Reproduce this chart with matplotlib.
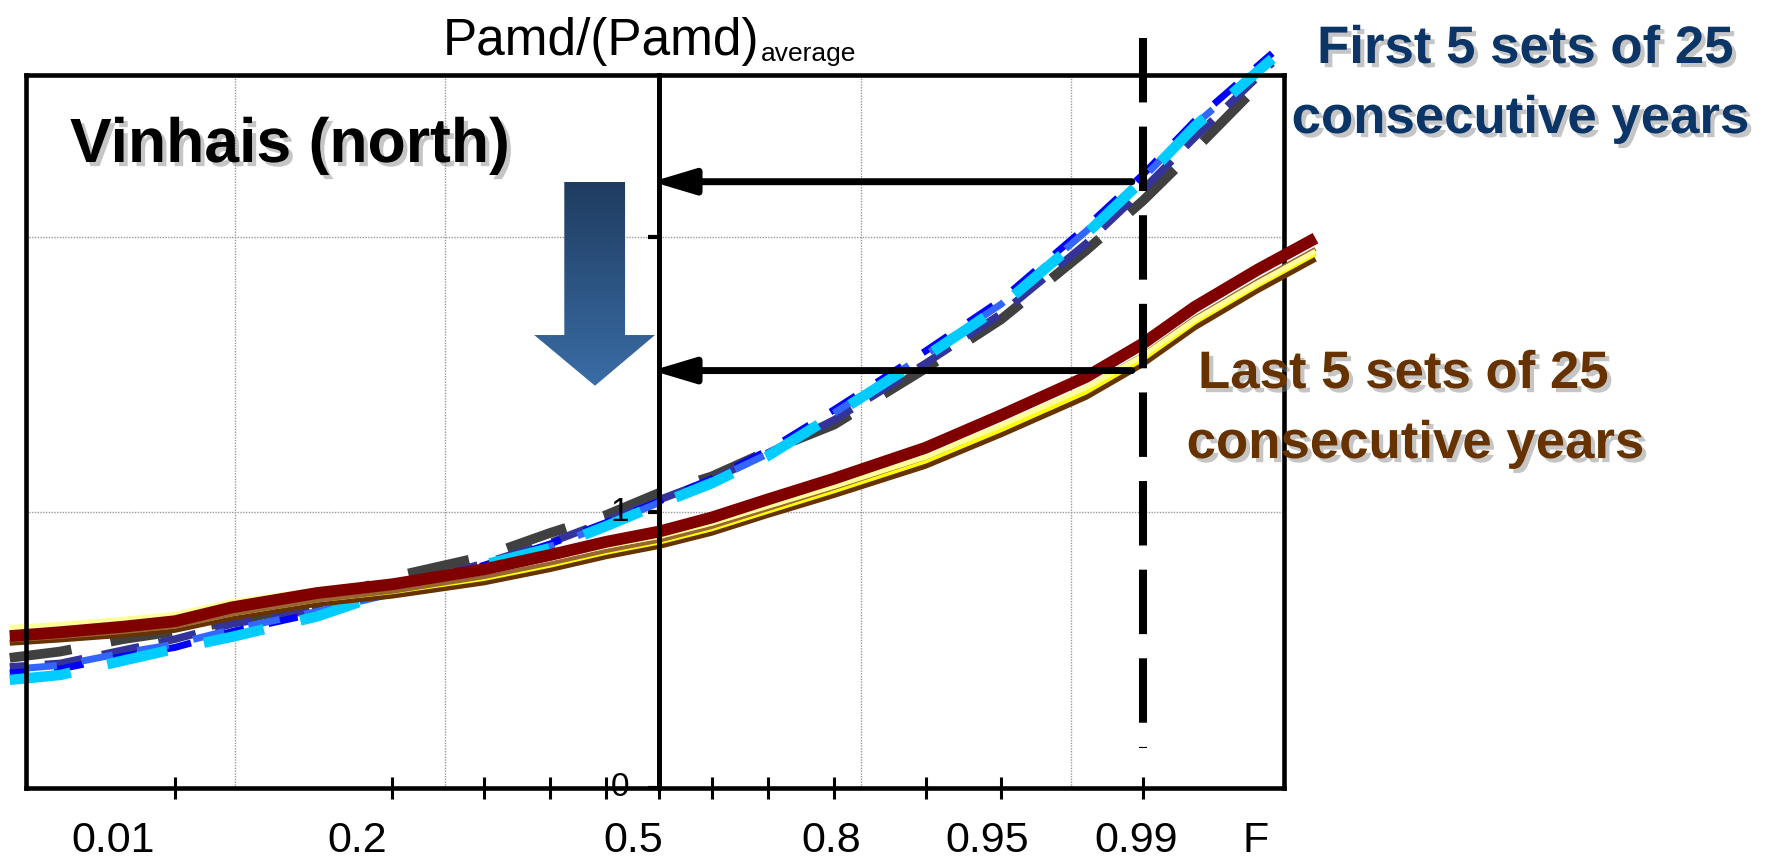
import numpy as np
import matplotlib
matplotlib.use("Agg")
import matplotlib.pyplot as plt
from matplotlib import patheffects as pe
from matplotlib.patches import Polygon
from matplotlib.colors import LinearSegmentedColormap
from matplotlib.ticker import NullFormatter
from matplotlib.transforms import blended_transform_factory
from statistics import NormalDist

# ---------------------------------------------------------------------------
# Data: non-exceedance probability F and normalised annual precipitation
# ---------------------------------------------------------------------------
f_first = [0.0009, 0.002, 0.005, 0.01, 0.02, 0.05, 0.1, 0.2, 0.3, 0.4, 0.5,
           0.6, 0.7, 0.8, 0.9, 0.95, 0.98, 0.99, 0.995, 0.9984]
first_grey = [0.472, 0.495, 0.540, 0.568, 0.605, 0.668, 0.765, 0.840, 0.925, 0.990,
              1.070, 1.130, 1.222, 1.318, 1.522, 1.700, 1.950, 2.130, 2.315, 2.600]
first_slate = [0.439, 0.452, 0.500, 0.540, 0.595, 0.648, 0.722, 0.815, 0.890, 0.968,
               1.045, 1.118, 1.215, 1.335, 1.540, 1.720, 1.975, 2.170, 2.360, 2.630]
first_blue = [0.417, 0.432, 0.478, 0.510, 0.567, 0.635, 0.710, 0.808, 0.885, 0.963,
              1.040, 1.122, 1.225, 1.372, 1.585, 1.770, 2.035, 2.225, 2.420, 2.665]
first_royal = [0.430, 0.445, 0.490, 0.522, 0.575, 0.640, 0.705, 0.800, 0.876, 0.955,
               1.035, 1.115, 1.212, 1.360, 1.572, 1.755, 2.020, 2.212, 2.405, 2.650]
first_cyan = [0.392, 0.410, 0.462, 0.505, 0.548, 0.622, 0.715, 0.810, 0.870, 0.950,
              1.030, 1.105, 1.205, 1.353, 1.565, 1.748, 2.010, 2.205, 2.400, 2.645]

f_last = [0.0009, 0.002, 0.005, 0.01, 0.02, 0.05, 0.1, 0.2, 0.3, 0.4, 0.5,
          0.6, 0.7, 0.8, 0.9, 0.95, 0.98, 0.99, 0.995, 0.998, 0.9992]
last_brown = [0.526, 0.538, 0.555, 0.573, 0.617, 0.667, 0.697, 0.745, 0.793, 0.840, 0.877,
              0.925, 0.990, 1.062, 1.168, 1.282, 1.418, 1.537, 1.670, 1.805, 1.919]
last_yellow = [0.540, 0.552, 0.570, 0.588, 0.632, 0.682, 0.712, 0.760, 0.808, 0.855, 0.892,
               0.940, 1.004, 1.078, 1.186, 1.300, 1.437, 1.556, 1.690, 1.824, 1.938]
last_tan = [0.535, 0.548, 0.566, 0.585, 0.630, 0.680, 0.712, 0.765, 0.814, 0.860, 0.897,
            0.947, 1.012, 1.088, 1.198, 1.315, 1.452, 1.572, 1.705, 1.840, 1.955]
last_cream = [0.582, 0.594, 0.612, 0.630, 0.676, 0.718, 0.744, 0.785, 0.832, 0.878, 0.912,
              0.960, 1.022, 1.094, 1.200, 1.315, 1.452, 1.568, 1.699, 1.832, 1.947]
last_red = [0.551, 0.565, 0.585, 0.605, 0.655, 0.707, 0.739, 0.793, 0.845, 0.893, 0.930,
            0.981, 1.047, 1.122, 1.234, 1.352, 1.491, 1.612, 1.745, 1.880, 1.994]

f_design = 0.99
design_levels = [2.199, 1.514]

tick_probs = [0.01, 0.1, 0.2, 0.3, 0.4, 0.5, 0.6, 0.7, 0.8, 0.9, 0.95, 0.99]
x_labels = ["0.01", "0.2", "0.5", "0.8", "0.95", "0.99", "F"]
grid_probs = [0.0207, 0.1515, 0.834, 0.9761]
y_ticks = [0, 1, 2]
y_labels = ["0", "1"]

# ---------------------------------------------------------------------------
# Normal-probability x scale
# ---------------------------------------------------------------------------
_nd = NormalDist()
_ppf = np.vectorize(lambda p: _nd.inv_cdf(min(max(float(p), 1e-12), 1 - 1e-12)),
                    otypes=[float])
_cdf = np.vectorize(lambda z: _nd.cdf(float(z)), otypes=[float])


def prob_forward(p):
    return _ppf(np.asarray(p, dtype=float))


def prob_inverse(z):
    return _cdf(np.asarray(z, dtype=float))


NARROW = ["Liberation Sans Narrow", "Liberation Sans", "DejaVu Sans"]
BOLD = ["Liberation Sans", "DejaVu Sans"]

W, H = 1768, 860
fig = plt.figure(figsize=(W / 100, H / 100), dpi=100, facecolor="white")
ax = fig.add_axes([26 / W, 1 - 788 / H, 1258 / W, 713 / H])
ax.set_xscale("function", functions=(prob_forward, prob_inverse))

# first five 25-year sets (dashed blues)
first_styles = [
    (first_grey, "#404040", 7.0, (6.4, 4.1), 0.0),
    (first_slate, "#333399", 5.5, (5.0, 2.6), 3.0),
    (first_blue, "#0000FF", 5.0, (4.3, 3.6), 1.5),
    (first_royal, "#3366FF", 5.0, (4.6, 3.6), 6.0),
    (first_cyan, "#00CCFF", 7.5, (5.9, 3.6), 0.0),
]
for vals, col, lw, dash, off in first_styles:
    ax.plot(f_first, vals, color=col, lw=lw, clip_on=False, zorder=2,
            linestyle=(off, dash), dash_capstyle="butt")

# last five 25-year sets (solid browns)
last_styles = [
    (last_brown, "#663300", 4.0),
    (last_yellow, "#FFFF00", 3.6),
    (last_tan, "#996633", 3.0),
    (last_cream, "#FFFF99", 3.6),
    (last_red, "#800000", 8.5),
]
for vals, col, lw in last_styles:
    ax.plot(f_last, vals, color=col, lw=lw, clip_on=False, zorder=3,
            solid_capstyle="butt", solid_joinstyle="round")

# design probability marker
ax.plot([f_design, f_design], [2.72, 0.145], color="black", lw=5.8,
        clip_on=False, zorder=6, linestyle=(0, (8, 3)), dash_capstyle="butt")

# horizontal read-off arrows toward the ordinate axis
for lvl in design_levels:
    ax.annotate("", xy=(0.487, lvl), xytext=(0.9885, lvl),
                arrowprops=dict(arrowstyle="-|>,head_length=2.5,head_width=0.75",
                                mutation_scale=10, lw=5, color="black",
                                shrinkA=0, shrinkB=0),
                zorder=7, annotation_clip=False)

# gradient "decrease" arrow
arrow_verts = [(0.4279, 0.8503), (0.4762, 0.8503), (0.4762, 0.6353), (0.5000, 0.6353),
               (0.4523, 0.5642), (0.4040, 0.6353), (0.4279, 0.6353)]
arrow_poly = Polygon(arrow_verts, closed=True, transform=ax.transAxes,
                     facecolor="none", edgecolor="none")
ax.add_patch(arrow_poly)
grad_cmap = LinearSegmentedColormap.from_list("navy_steel", ["#1F3C60", "#3A6DA6"])
grad = np.linspace(0, 1, 256).reshape(-1, 1)
img = ax.imshow(grad, extent=[0.4040, 0.5000, 0.5642, 0.8503], transform=ax.transAxes,
                cmap=grad_cmap, aspect="auto", origin="upper", zorder=4,
                interpolation="bilinear")
img.set_clip_path(arrow_poly)

# axes limits, ticks and grid
ax.set_xlim(0.00117, 0.99867)
ax.set_ylim(0, 2.586)
ax.set_xticks(tick_probs)
ax.xaxis.set_major_formatter(NullFormatter())
ax.set_xticks(grid_probs, minor=True)
ax.xaxis.set_minor_formatter(NullFormatter())
ax.tick_params(axis="x", which="major", direction="inout", length=16, width=2.2,
               color="black")
ax.tick_params(axis="x", which="minor", length=0)
ax.set_yticks(y_ticks)
ax.yaxis.set_major_formatter(NullFormatter())
ax.tick_params(axis="y", which="major", direction="out", length=8, width=3,
               color="black")
ax.grid(which="minor", axis="x", color="#9a9a9a", lw=1.0, linestyle=(0, (1, 1)))
ax.grid(which="major", axis="y", color="#9a9a9a", lw=1.0, linestyle=(0, (1, 1)))
ax.set_axisbelow(True)

for side in ("top", "bottom", "right"):
    ax.spines[side].set_linewidth(3.3)
ax.spines["left"].set_position(("data", 0.5))
ax.spines["left"].set_linewidth(3.6)
ax.spines["left"].set_zorder(5)
ax.plot([0, 0], [0, 1], transform=ax.transAxes, color="black", lw=3.3,
        clip_on=False, zorder=5, solid_capstyle="projecting")

# ordinate values written beside the central axis
ylab_tr = blended_transform_factory(ax.transAxes, ax.transData)
for txt, yv in zip(y_labels, y_ticks):
    ax.text(0.4795, yv, txt, transform=ylab_tr, ha="right", va="center",
            fontsize=24, fontfamily=NARROW, color="black", zorder=8)

# probability labels under the axis
label_x = [0.0692, 0.2631, 0.4825, 0.6399, 0.7639, 0.8824, 0.9777]
for txt, xa in zip(x_labels, label_x):
    ax.text(xa, -0.0900, txt, transform=ax.transAxes, ha="center", va="baseline",
            fontsize=31, fontfamily=NARROW, color="black")

# ordinate title with subscript
title = fig.text(443 / W, 1 - 55 / H, "Pamd/(Pamd)", fontsize=37,
                 fontfamily=NARROW, ha="left", va="baseline")
fig.canvas.draw()
bb = title.get_window_extent()
fig.text(bb.x1 / W + 0.001, 1 - 61 / H, "average", fontsize=19,
         fontfamily=NARROW, ha="left", va="baseline")

shadow = [pe.withSimplePatchShadow(offset=(3, -3), shadow_rgbFace="#808080", alpha=0.45)]
fig.text(70 / W, 1 - 162 / H, "Vinhais (north)", fontsize=45, fontweight="bold",
         fontfamily=BOLD, color="black", ha="left", va="baseline", path_effects=shadow)

navy = "#0B3566"
fig.text(1525 / W, 1 - 63 / H, "First 5 sets of 25", fontsize=38, fontweight="bold",
         fontfamily=BOLD, color=navy, ha="center", va="baseline", path_effects=shadow)
fig.text(1520 / W, 1 - 133 / H, "consecutive years", fontsize=38, fontweight="bold",
         fontfamily=BOLD, color=navy, ha="center", va="baseline", path_effects=shadow)

brown = "#663300"
fig.text(1403 / W, 1 - 388 / H, "Last 5 sets of 25", fontsize=38, fontweight="bold",
         fontfamily=BOLD, color=brown, ha="center", va="baseline", path_effects=shadow)
fig.text(1415 / W, 1 - 458 / H, "consecutive years", fontsize=38, fontweight="bold",
         fontfamily=BOLD, color=brown, ha="center", va="baseline", path_effects=shadow)

fig.savefig("out.png", dpi=100, facecolor="white")
